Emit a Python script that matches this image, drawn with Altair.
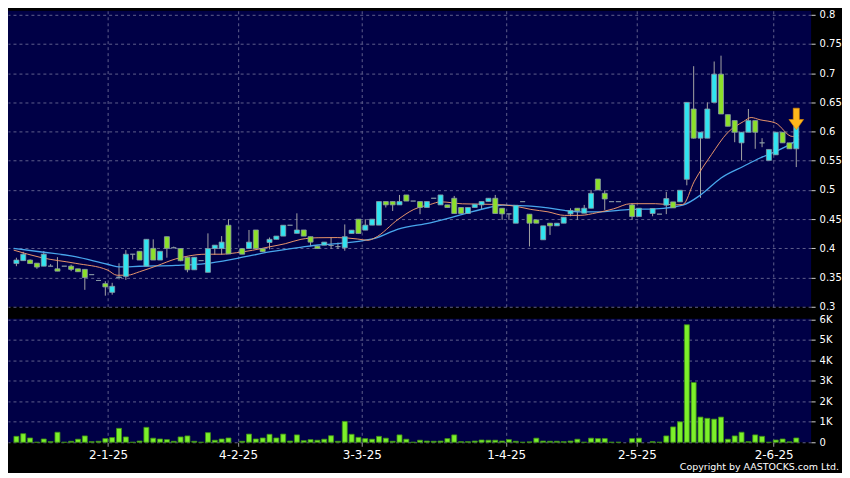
import altair as alt
import pandas as pd

# ---------------- data ----------------
opens = [0.374, 0.379, 0.380, 0.3747, 0.3695, 0.3695, 0.365, 0.3695, 0.3695, 0.365,
         0.364, 0.355, 0.345, 0.3396, 0.3247, 0.350, 0.352, 0.390, 0.395, 0.3695,
         0.400, 0.380, 0.420, 0.401, 0.3997, 0.3847, 0.3633, 0.379, 0.359, 0.3997,
         0.3997, 0.4396, None, 0.3995, 0.3997, 0.4315, 0.3995, 0.410, 0.4155, 0.421,
         0.4396, 0.4257, 0.4315, 0.420, 0.4038, 0.4055, 0.405, 0.403, 0.401, 0.4255,
         0.450, 0.4312, 0.4398, 0.4398, 0.4802, 0.4802, 0.4745, 0.4915, 0.481, 0.4802,
         0.470, 0.4858, 0.4745, 0.4745, 0.4858, 0.470, 0.4597, 0.470, 0.4745, 0.4802,
         0.4858, 0.4687, 0.459, 0.4431, 0.480, 0.4585, 0.4488, 0.4147, 0.4431, 0.4386,
         0.4431, 0.459, 0.4687, 0.4602, 0.4687, 0.5188, 0.4943, 0.480, 0.480, None,
         0.4744, 0.4545, None, 0.4597, 0.4586, 0.474, 0.4796, 0.4796, 0.5183, 0.6387,
         0.5887, 0.5887, 0.650, 0.6983, 0.629, 0.6188, 0.5807, 0.5989, 0.6188, 0.5807,
         0.5506, 0.5602, 0.5989, 0.5807, 0.5705]
highs = [0.384, 0.394, 0.381, 0.3747, 0.3954, 0.373, 0.385, 0.3695, 0.372, 0.365,
         0.364, 0.355, 0.345, 0.3437, 0.341, 0.3745, 0.397, 0.390, 0.395, 0.4155,
         0.4155, 0.395, 0.420, 0.403, 0.3997, 0.3847, 0.3847, 0.379, 0.4257, 0.4055,
         0.421, 0.450, None, 0.3995, 0.4315, 0.4315, 0.3995, 0.4186, 0.421, 0.4396,
         0.4396, 0.460, 0.4315, 0.420, 0.4038, 0.4107, 0.419, 0.410, 0.441, 0.4312,
         0.450, 0.450, 0.450, 0.4802, 0.4802, 0.4802, 0.4915, 0.4915, 0.481, 0.4802,
         0.4802, 0.4858, 0.4915, 0.4745, 0.4898, 0.470, 0.470, 0.4756, 0.4802, 0.4858,
         0.4915, 0.4687, 0.459, 0.4738, 0.480, 0.4585, 0.4488, 0.4386, 0.4431, 0.4431,
         0.4533, 0.4687, 0.4687, 0.4744, 0.500, 0.5188, 0.4994, 0.480, 0.480, None,
         0.4765, 0.4687, None, 0.4683, 0.4586, 0.4967, 0.4796, 0.4995, 0.650, 0.7120,
         0.5989, 0.650, 0.7200, 0.7300, 0.629, 0.6188, 0.5989, 0.6387, 0.6188, 0.5887,
         0.5694, 0.5989, 0.5989, 0.5807, 0.6091]
lows = [0.3695, 0.379, 0.374, 0.365, 0.3695, 0.3695, 0.361, 0.3695, 0.361, 0.360,
        0.329, 0.355, 0.345, 0.319, 0.3207, 0.347, 0.346, 0.381, 0.380, 0.3695,
        0.380, 0.380, 0.384, 0.401, 0.378, 0.359, 0.3633, 0.379, 0.359, 0.389,
        0.389, 0.3905, None, 0.390, 0.3997, 0.3997, 0.394, 0.3983, 0.4155, 0.421,
        0.4396, 0.4257, 0.421, 0.4038, 0.3997, 0.4055, 0.399, 0.399, 0.396, 0.4255,
        0.4255, 0.4312, 0.4398, 0.4398, 0.470, 0.464, 0.4745, 0.481, 0.481, 0.4585,
        0.470, 0.4858, 0.4745, 0.470, 0.4597, 0.4597, 0.4597, 0.470, 0.467, 0.4802,
        0.4597, 0.4488, 0.4488, 0.4431, 0.480, 0.4033, 0.4431, 0.4147, 0.423, 0.4386,
        0.4431, 0.455, 0.4488, 0.4602, 0.4687, 0.500, 0.4659, 0.480, 0.480, None,
        0.4488, 0.4545, None, 0.455, 0.4586, 0.4586, 0.4694, 0.4796, 0.508, 0.588,
        0.4865, 0.5887, 0.650, 0.6301, 0.6091, 0.5818, 0.5506, 0.5989, 0.5705, 0.5733,
        0.5506, 0.5602, 0.5807, 0.5705, 0.5392]
closes = [0.380, 0.390, 0.374, 0.368, 0.390, 0.3695, 0.361, 0.3695, 0.364, 0.360,
          0.350, 0.355, 0.345, 0.334, 0.335, 0.351, 0.390, 0.390, 0.380, 0.4155,
          0.380, 0.395, 0.400, 0.401, 0.3789, 0.3633, 0.3847, 0.379, 0.3997, 0.4055,
          0.4107, 0.3905, None, 0.390, 0.4107, 0.3997, 0.3943, 0.4155, 0.421, 0.4396,
          0.4396, 0.4315, 0.421, 0.4107, 0.3997, 0.4107, 0.405, 0.403, 0.420, 0.4312,
          0.4255, 0.4398, 0.450, 0.4802, 0.4745, 0.4745, 0.4802, 0.481, 0.481, 0.470,
          0.4802, 0.4858, 0.4915, 0.470, 0.4597, 0.4597, 0.470, 0.4756, 0.4802, 0.4858,
          0.4597, 0.459, 0.459, 0.4738, 0.480, 0.4431, 0.4431, 0.4386, 0.4386, 0.4431,
          0.4533, 0.4647, 0.4642, 0.4687, 0.4943, 0.500, 0.4846, 0.480, 0.480, None,
          0.4545, 0.4687, None, 0.4683, 0.4586, 0.4853, 0.4694, 0.4995, 0.650, 0.5887,
          0.5989, 0.6387, 0.6983, 0.6301, 0.6091, 0.5989, 0.5989, 0.6188, 0.5989, 0.5807,
          0.5694, 0.5989, 0.5807, 0.5705, 0.6091]
volumes = [290, 420, 210, 0, 160, 30, 490, 0, 50, 150,
           310, 30, 50, 180, 230, 680, 260, 0, 60, 730,
           200, 160, 130, 50, 260, 310, 50, 0, 470, 100,
           160, 210, None, 50, 400, 160, 210, 390, 210, 400,
           60, 360, 80, 130, 100, 150, 320, 50, 1020, 390,
           240, 180, 150, 290, 200, 50, 360, 150, 0, 100,
           60, 50, 60, 180, 360, 30, 30, 60, 110, 100,
           100, 60, 130, 50, 0, 20, 200, 60, 50, 50,
           30, 60, 150, 0, 200, 180, 180, 0, 0, None,
           180, 200, None, 30, 0, 310, 750, 1000, 5740, 2920,
           1230, 1170, 1130, 1230, 150, 310, 490, 30, 360, 290,
           0, 110, 160, 20, 210]

# moving averages (position in trading days, value)
ma_fast_pos = [-0.4, 3.7, 8.6, 13.3, 14.7, 16.2, 18.0, 20.5, 23.3, 25.2, 27.6, 30.0,
               32.2, 34.5, 36.9, 39.3, 41.6, 44.1, 46.9, 49.9, 51.4, 52.4, 55.8, 58.1,
               60.5, 62.0, 65.2, 70.1, 72.9, 75.2, 77.7, 80.1, 82.4, 84.8, 87.3, 89.8,
               93.4, 96.3, 97.4, 99.1, 101.6, 103.9, 106.3, 107.4, 108.7, 111.0, 113.4, 114.4]
ma_fast_val = [0.397, 0.384, 0.3745, 0.363, 0.354, 0.354, 0.360, 0.370, 0.382, 0.387, 0.390, 0.390,
               0.3926, 0.3967, 0.4024, 0.408, 0.4155, 0.4182, 0.4185, 0.416, 0.4138, 0.418, 0.4496, 0.4667,
               0.4752, 0.4797, 0.4763, 0.4752, 0.4723, 0.4667, 0.4626, 0.4565, 0.4565, 0.4609, 0.4677, 0.4765,
               0.4765, 0.4745, 0.475, 0.515, 0.5605, 0.5974, 0.6173, 0.6241, 0.6202, 0.6145, 0.5917, 0.593]
ma_slow_pos = [-0.4, 3.7, 8.6, 13.3, 15.2, 18.0, 23.3, 27.6, 32.3, 37.2, 41.9, 44.1,
               46.9, 50.9, 52.4, 55.8, 60.5, 65.2, 69.1, 71.1, 73.0, 75.2, 77.7, 80.1,
               82.4, 84.8, 89.8, 93.4, 97.4, 100.1, 103.0, 106.3, 108.7, 111.0, 113.4, 114.4]
ma_slow_val = [0.400, 0.3938, 0.3858, 0.3728, 0.3682, 0.3694, 0.371, 0.3739, 0.383, 0.3943, 0.4024, 0.4058,
               0.408, 0.4138, 0.4172, 0.433, 0.4438, 0.4581, 0.470, 0.474, 0.4733, 0.4723, 0.4694, 0.465,
               0.4625, 0.4625, 0.4667, 0.4677, 0.474, 0.4922, 0.5206, 0.5406, 0.5547, 0.5661, 0.5803, 0.5878]

date_pos = [13.4, 32.4, 50.5, 71.6, 90.7, 110.7]
date_labels = ["2-1-25", "4-2-25", "3-3-25", "1-4-25", "2-5-25", "2-6-25"]
price_ticks = [0.3, 0.35, 0.4, 0.45, 0.5, 0.55, 0.6, 0.65, 0.7, 0.75, 0.8]
vol_ticks = [0, 1000, 2000, 3000, 4000, 5000, 6000]
copyright_text = ["Copyright by AASTOCKS.com Ltd."]

# ---------------- tables ----------------
rows = []
for k in range(len(opens)):
    if opens[k] is None:
        continue
    o, c = opens[k], closes[k]
    rows.append(dict(i=k, open=o, high=highs[k], low=lows[k], close=c,
                     dir="up" if c > o else ("down" if c < o else "flat")))
candles = pd.DataFrame(rows)
vol_df = pd.DataFrame({"i": list(range(len(volumes))), "vol": volumes}).dropna()
fast_df = pd.DataFrame({"i": ma_fast_pos, "v": ma_fast_val})
slow_df = pd.DataFrame({"i": ma_slow_pos, "v": ma_slow_val})
last = candles.iloc[-1]
arrow_df = pd.DataFrame({"i": [last["i"]], "v": [last["close"] + 0.0125]})

# ---------------- styling ----------------
FONT = "DejaVu Sans"
GRID = "#5e5e8c"
CYAN = "#30e4f0"
GREEN = "#8ce02a"
W = 806
xscale = alt.Scale(domain=[-0.5, 115.44], nice=False, zero=False)
pscale = alt.Scale(domain=[0.3, 0.8068], nice=False, zero=False)
vscale = alt.Scale(domain=[0, 6035], nice=False)

label_expr = " : ".join(
    f"datum.value == {p} ? '{t}'" for p, t in zip(date_pos, date_labels)) + " : ''"

x_top_axis = alt.Axis(values=date_pos, labels=False, ticks=False, domain=False,
                      grid=True, gridColor=GRID, gridDash=[3, 3], gridWidth=1, title=None)
x_bot_axis = alt.Axis(values=date_pos, labelExpr=label_expr, ticks=True, tickSize=4,
                      tickColor="#9a9a9a", domain=False, grid=True, gridColor=GRID,
                      gridDash=[3, 3], gridWidth=1, title=None, labelColor="#ffffff",
                      labelFont=FONT, labelFontSize=12, labelPadding=3, labelOverlap=False)
p_axis = alt.Axis(orient="right", values=price_ticks, format="~g", grid=True,
                  gridColor=GRID, gridDash=[3, 3], gridWidth=1, domain=False,
                  tickSize=4, tickColor="#d0d0d0", labelColor="#ffffff", labelFont=FONT,
                  labelFontSize=10, labelPadding=4, title=None, labelOverlap=False)
v_axis = alt.Axis(orient="right", values=vol_ticks,
                  labelExpr="datum.value == 0 ? '0' : (datum.value / 1000) + 'K'",
                  grid=True, gridColor=GRID, gridDash=[3, 3], gridWidth=1, domain=False,
                  tickSize=4, tickColor="#d0d0d0", labelColor="#ffffff", labelFont=FONT,
                  labelFontSize=10, labelPadding=4, title=None, labelOverlap=False)

color = alt.Color("dir:N", scale=alt.Scale(domain=["up", "down", "flat"],
                                            range=[CYAN, GREEN, "#9a9a9a"]), legend=None)

px = alt.X("i:Q", scale=xscale, axis=x_top_axis)

wicks = alt.Chart(candles).mark_rule(color="#a4a4a4", strokeWidth=1).encode(
    x=px, y=alt.Y("low:Q", scale=pscale, axis=p_axis), y2="high:Q")
fast = alt.Chart(fast_df).mark_line(color="#e8956a", strokeWidth=1, interpolate="monotone").encode(
    x=px, y=alt.Y("v:Q", scale=pscale, axis=p_axis))
slow = alt.Chart(slow_df).mark_line(color="#48a6ec", strokeWidth=1.3, interpolate="monotone").encode(
    x=px, y=alt.Y("v:Q", scale=pscale, axis=p_axis))
bodies = alt.Chart(candles).mark_bar(width=5, stroke="#8a9ca6", strokeWidth=0.8).encode(
    x=px, y=alt.Y("open:Q", scale=pscale, axis=p_axis), y2="close:Q", fill=color)
arrow_path = "M-0.28,-1 L0.28,-1 L0.28,0.05 L0.68,0.05 L0,1 L-0.68,0.05 L-0.28,0.05 Z"
arrow = alt.Chart(arrow_df).mark_point(shape=arrow_path, size=470, filled=True,
                                       fill="#ffb81c", stroke="#e08a00", strokeWidth=0.6,
                                       opacity=1).encode(
    x=px, y=alt.Y("v:Q", scale=pscale, axis=p_axis))

price = alt.layer(wicks, slow, fast, bodies, arrow).properties(width=W, height=297)

vbars = alt.Chart(vol_df).mark_bar(width=5, fill="#7cf02a", stroke="#3f8f16", strokeWidth=0.8).encode(
    x=alt.X("i:Q", scale=xscale, axis=x_bot_axis),
    y=alt.Y("vol:Q", scale=vscale, axis=v_axis),
)
copyright = alt.Chart(pd.DataFrame({"t": copyright_text})).mark_text(
    align="right", baseline="middle", font=FONT, fontSize=9.5, color="#ffffff").encode(
    x=alt.value(834), y=alt.value(149), text="t:N")

volume = alt.layer(vbars, copyright).properties(width=W, height=124)

chart = alt.vconcat(price, volume, spacing=12, bounds="flush").configure(
    background="#000000",
    padding={"left": 0, "top": 0, "right": 0, "bottom": 0},
).configure_view(stroke=None, fill="#000046")

chart.save("out.html", embed_options={"renderer": "svg", "actions": False})
